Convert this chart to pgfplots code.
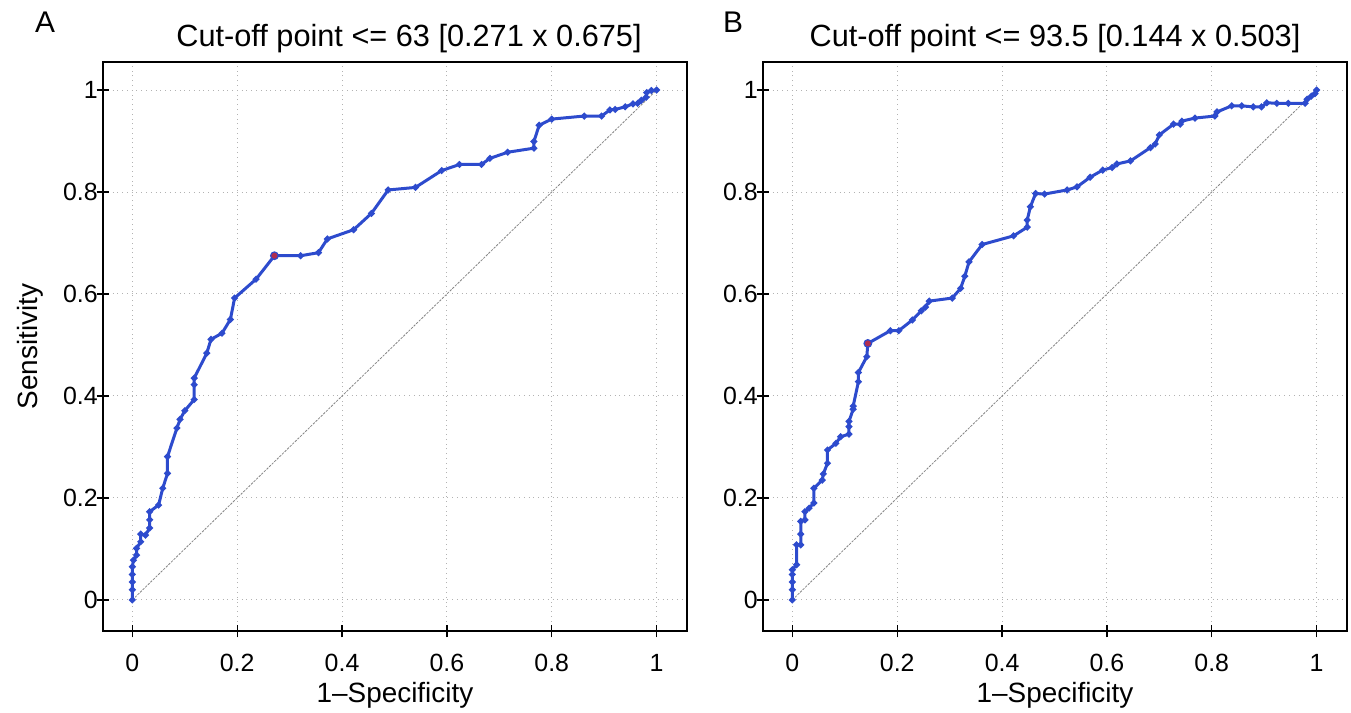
\documentclass[border=0pt]{standalone}
\usepackage{fontspec}
\setmainfont{Liberation Sans}
\usepackage{pgfplots}
\pgfplotsset{compat=1.18}

\definecolor{rocblue}{RGB}{45,75,205}
\definecolor{cutred}{RGB}{175,45,80}

\pgfplotsset{
  rocpanel/.style={
    scale only axis,
    width=292bp, height=284.5bp,
    xmin=-0.056, xmax=1.058,
    ymin=-0.061, ymax=1.055,
    xtick={0,0.2,...,1}, ytick={0,0.2,...,1},
    xtick pos=bottom, ytick pos=left,
    /pgf/number format/assume math mode=true,
    tick label style={font=\fontsize{12.5}{14}\selectfont},
    tick align=center,
    major tick length=6.3bp,
    every tick/.style={black, line width=0.7bp},
    axis line style={black, line width=0.8bp},
    grid=major,
    grid style={gray!60, dotted, line width=0.5bp},
    xticklabel style={yshift=-5bp},
    yticklabel style={xshift=4bp},
    xlabel={1--Specificity},
    ylabel={Sensitivity},
    label style={font=\fontsize{14}{16}\selectfont},
    xlabel style={at={(axis description cs:0.5,-0.1125)}, anchor=center},
    ylabel style={at={(axis description cs:-0.125,0.5)}, anchor=center, rotate=0},
    every axis title shift=0pt,
    title style={at={(axis description cs:0.5,1.042)}, anchor=center,
                 font=\fontsize{15.4}{18}\selectfont},
  },
  diag/.style={gray!95, line width=0.4bp, dash pattern=on 1.2bp off 0.6bp, mark=none},
  roc/.style={rocblue, line width=1.5bp, mark=*, mark size=0.8bp,
              mark options={fill=rocblue, draw=rocblue, solid}},
  cut/.style={only marks, mark=*, mark size=1.9bp,
              mark options={fill=cutred, draw=rocblue, line width=0.6bp}},
}

\begin{document}
\begin{tikzpicture}
\useasboundingbox (0,0) rectangle (675.5bp,356.5bp);

\node[font=\fontsize{15}{17}\selectfont] at (22.5bp,345.5bp) {A};
\node[font=\fontsize{15}{17}\selectfont] at (366.5bp,345.5bp) {B};

\begin{axis}[rocpanel, at={(51.5bp,41bp)}, anchor=south west,
  title={Cut-off point <= 63 [0.271 x 0.675]},
  title style={at={(axis description cs:0.524,1.042)}}]
\addplot[diag] coordinates {(0,0) (1,1)};
\addplot[roc] coordinates {
(0,0) (0,0.02) (0,0.035) (0,0.05) (0,0.065) (0.002,0.078) (0.008,0.088)
(0.008,0.101) (0.016,0.114) (0.016,0.129) (0.025,0.127) (0.033,0.141)
(0.033,0.157) (0.033,0.173) (0.05,0.186) (0.058,0.219) (0.067,0.248)
(0.067,0.281) (0.085,0.337) (0.091,0.354) (0.100,0.371) (0.118,0.393)
(0.118,0.422) (0.118,0.435) (0.142,0.484) (0.150,0.511) (0.171,0.523)
(0.187,0.550) (0.195,0.592) (0.236,0.629) (0.271,0.675) (0.321,0.675)
(0.355,0.681) (0.372,0.708) (0.422,0.726) (0.456,0.758) (0.488,0.804)
(0.540,0.809) (0.590,0.842) (0.624,0.854) (0.666,0.854) (0.682,0.866)
(0.716,0.878) (0.766,0.886) (0.766,0.899) (0.776,0.931) (0.800,0.943)
(0.862,0.949) (0.895,0.949) (0.911,0.961) (0.921,0.962) (0.940,0.967)
(0.955,0.973) (0.964,0.974) (0.971,0.980) (0.980,0.986) (0.981,0.995)
(0.990,0.999) (1,1)
};
\addplot[cut] coordinates {(0.271,0.675)};
\end{axis}

\begin{axis}[rocpanel, at={(381.5bp,41bp)}, anchor=south west,
  title={Cut-off point <= 93.5 [0.144 x 0.503]}, ylabel={}]
\addplot[diag] coordinates {(0,0) (1,1)};
\addplot[roc] coordinates {
(0,0) (0,0.02) (0,0.035) (0,0.05) (0,0.059) (0.008,0.069) (0.008,0.108)
(0.016,0.108) (0.016,0.129) (0.016,0.154) (0.024,0.157) (0.024,0.173)
(0.032,0.180) (0.041,0.190) (0.041,0.219) (0.057,0.235) (0.059,0.247)
(0.067,0.268) (0.067,0.294) (0.083,0.307) (0.092,0.320) (0.108,0.325)
(0.108,0.340) (0.108,0.350) (0.116,0.374) (0.116,0.380) (0.126,0.428)
(0.126,0.446) (0.142,0.477) (0.144,0.503) (0.187,0.528) (0.203,0.528)
(0.229,0.549) (0.246,0.567) (0.254,0.574) (0.261,0.586) (0.305,0.592)
(0.321,0.611) (0.329,0.635) (0.337,0.663) (0.362,0.697) (0.422,0.714)
(0.448,0.731) (0.448,0.745) (0.454,0.771) (0.464,0.797) (0.481,0.796)
(0.524,0.804) (0.543,0.810) (0.568,0.829) (0.592,0.843) (0.610,0.848)
(0.619,0.855) (0.645,0.861) (0.683,0.887) (0.692,0.894) (0.700,0.912)
(0.727,0.933) (0.740,0.933) (0.743,0.939) (0.768,0.945) (0.806,0.949)
(0.810,0.957) (0.838,0.969) (0.857,0.969) (0.879,0.967) (0.895,0.967)
(0.905,0.975) (0.924,0.974) (0.946,0.974) (0.978,0.974) (0.982,0.982)
(0.990,0.988) (0.997,0.993) (1,1)
};
\addplot[cut] coordinates {(0.144,0.503)};
\end{axis}
\end{tikzpicture}
\end{document}
